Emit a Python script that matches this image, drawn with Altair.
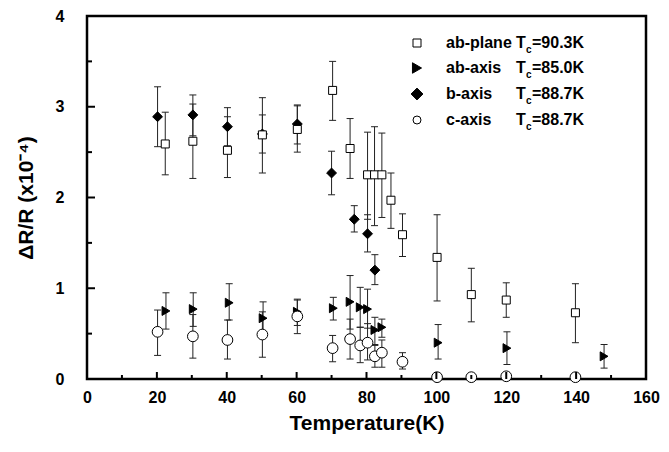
import altair as alt
import pandas as pd

# ---------------- data ----------------
# ab-plane  (open squares)
abp_T  = [22.4, 30.3, 40.2, 50.2, 60.2, 70.3, 75.3, 80.3, 82.3, 84.4, 87.0, 90.3, 100.2, 110.0, 120.0, 139.8]
abp_v  = [2.59, 2.62, 2.52, 2.69, 2.75, 3.18, 2.54, 2.25, 2.25, 2.25, 1.97, 1.59, 1.34, 0.93, 0.87, 0.73]
abp_hi = [2.94, 3.03, 2.89, 3.10, 3.01, 3.50, 2.87, 2.72, 2.78, 2.71, 2.27, 1.82, 1.81, 1.22, 1.06, 1.05]
abp_lo = [2.25, 2.21, 2.22, 2.27, 2.50, 2.85, 2.21, 1.76, 1.69, 1.78, 1.66, 1.35, 0.86, 0.63, 0.68, 0.40]

# ab-axis  (filled right triangles)
aba_T  = [22.6, 30.4, 40.7, 50.4, 60.2, 70.5, 75.3, 78.2, 80.3, 82.4, 84.4, 100.5, 120.2, 148.0]
aba_v  = [0.75, 0.77, 0.84, 0.67, 0.74, 0.78, 0.85, 0.79, 0.77, 0.54, 0.57, 0.40, 0.34, 0.25]
aba_hi = [0.95, 0.95, 1.05, 0.85, 0.87, 0.90, 1.14, 1.01, 0.99, 0.68, 0.66, 0.60, 0.52, 0.38]
aba_lo = [0.55, 0.58, 0.65, 0.49, 0.59, 0.65, 0.55, 0.57, 0.56, 0.38, 0.46, 0.22, 0.16, 0.12]

# b-axis  (filled diamonds)
bax_T  = [20.2, 30.3, 40.2, 50.2, 60.2, 70.0, 76.5, 80.3, 82.4]
bax_v  = [2.89, 2.91, 2.78, 2.70, 2.81, 2.27, 1.76, 1.60, 1.20]
bax_hi = [3.22, 3.13, 2.99, 2.91, 3.02, 2.51, 1.91, 1.81, 1.37]
bax_lo = [2.56, 2.68, 2.57, 2.49, 2.59, 2.03, 1.62, 1.40, 1.04]

# c-axis  (open circles)
cax_T  = [20.2, 30.3, 40.2, 50.2, 60.2, 70.3, 75.3, 78.2, 80.3, 82.4, 84.4, 90.3, 100.2, 110.0, 120.0, 139.8]
cax_v  = [0.52, 0.47, 0.43, 0.49, 0.69, 0.34, 0.44, 0.37, 0.40, 0.25, 0.29, 0.19, 0.02, 0.02, 0.03, 0.02]
cax_hi = [0.76, 0.71, 0.65, 0.74, 0.88, 0.48, 0.66, 0.57, 0.61, 0.37, 0.43, 0.29, 0.04, 0.03, 0.05, 0.04]
cax_lo = [0.26, 0.23, 0.22, 0.24, 0.50, 0.19, 0.22, 0.18, 0.21, 0.13, 0.13, 0.11, 0.00, 0.01, 0.01, 0.00]

series_names = ["b-axis", "ab-plane", "ab-axis", "c-axis"]   # drawing order
legend_names = ["ab-plane", "ab-axis", "b-axis", "c-axis"]
legend_tc    = ["=90.3K", "=85.0K", "=88.7K", "=88.7K"]

x_major = [0, 20, 40, 60, 80, 100, 120, 140, 160]
x_minor = [10, 30, 50, 70, 90, 110, 130, 150]
y_major = [0, 1, 2, 3, 4]
y_minor = [0.5, 1.5, 2.5, 3.5]

# ---------------- build table ----------------
parts = {
    "ab-plane": (abp_T, abp_v, abp_lo, abp_hi),
    "ab-axis": (aba_T, aba_v, aba_lo, aba_hi),
    "b-axis": (bax_T, bax_v, bax_lo, bax_hi),
    "c-axis": (cax_T, cax_v, cax_lo, cax_hi),
}
frames = []
for i, name in enumerate(series_names):
    T, v, lo, hi = parts[name]
    frames.append(pd.DataFrame({"T": T, "v": v, "lo": lo, "hi": hi,
                                "series": name, "order": i}))
df = pd.concat(frames, ignore_index=True)

FONT = "Liberation Sans"
W, H = 559, 363

xs = alt.Scale(domain=[0, 160], nice=False, zero=False)
ys = alt.Scale(domain=[0, 4], nice=False, zero=False)

x_axis = alt.Axis(values=x_major, title="Temperature(K)", grid=False, domain=False,
                  ticks=False, tickSize=0, labelPadding=10, labelFlush=False, labelFont=FONT,
                  labelFontSize=16, labelFontWeight="bold", labelColor="black",
                  titleFont=FONT, titleFontSize=21, titleFontWeight="bold",
                  titleColor="black", titlePadding=7)
y_axis = alt.Axis(values=y_major, title="ΔR/R (x10⁻⁴)", grid=False, domain=False,
                  ticks=False, tickSize=0, labelPadding=23, labelFlush=False, labelFont=FONT,
                  labelFontSize=16, labelFontWeight="bold", labelColor="black",
                  titleFont=FONT, titleFontSize=21, titleFontWeight="bold",
                  titleColor="black", titlePadding=19)


def X(field):
    return alt.X(field, type="quantitative", scale=xs, axis=x_axis)


def Y(field):
    return alt.Y(field, type="quantitative", scale=ys, axis=y_axis)


base = alt.Chart(df)
ERR = "#222222"

bars = base.mark_rule(color=ERR, strokeWidth=1).encode(x=X("T"), y=Y("lo"), y2="hi")
cap_hi = base.mark_tick(orient="horizontal", color=ERR, size=7, thickness=1, opacity=1).encode(
    x=X("T"), y=Y("hi"))
cap_lo = base.mark_tick(orient="horizontal", color=ERR, size=7, thickness=1, opacity=1).encode(
    x=X("T"), y=Y("lo"))

shape_scale = alt.Scale(domain=["ab-plane", "ab-axis", "b-axis", "c-axis"],
                        range=["square", "triangle-right", "diamond", "circle"])
fill_scale = alt.Scale(domain=["ab-plane", "ab-axis", "b-axis", "c-axis"],
                       range=["white", "black", "black", "white"])
size_scale = alt.Scale(domain=["ab-plane", "ab-axis", "b-axis", "c-axis"],
                       range=[64, 115, 105, 60])

points = base.mark_point(filled=True, stroke="black", strokeWidth=1, opacity=1).encode(
    x=X("T"), y=Y("v"),
    shape=alt.Shape("series:N", scale=shape_scale, legend=None),
    fill=alt.Fill("series:N", scale=fill_scale, legend=None),
    size=alt.Size("series:N", scale=size_scale, legend=None),
    order=alt.Order("order:Q"),
)

# inward ticks
xt_major = alt.Chart(pd.DataFrame({"t": x_major})).mark_rule(color="black", strokeWidth=2).encode(
    x=X("t"), y=alt.value(H), y2=alt.value(H - 7))
xt_minor = alt.Chart(pd.DataFrame({"t": x_minor})).mark_rule(color="black", strokeWidth=2).encode(
    x=X("t"), y=alt.value(H), y2=alt.value(H - 4))
yt_major = alt.Chart(pd.DataFrame({"t": y_major})).mark_rule(color="black", strokeWidth=2).encode(
    y=Y("t"), x=alt.value(0), x2=alt.value(8))
yt_minor = alt.Chart(pd.DataFrame({"t": y_minor})).mark_rule(color="black", strokeWidth=2).encode(
    y=Y("t"), x=alt.value(0), x2=alt.value(5))

# manual legend (with subscript c)
leg_layers = []
leg_shapes = {"ab-plane": ("square", "white", 64), "ab-axis": ("triangle-right", "black", 110),
              "b-axis": ("diamond", "black", 140), "c-axis": ("circle", "white", 64)}
one = pd.DataFrame({"a": [0]})
row_y = [27, 52, 78, 104]
for i, name in enumerate(legend_names):
    shp, fil, sz = leg_shapes[name]
    yy = row_y[i]
    leg_layers.append(alt.Chart(one).mark_point(shape=shp, filled=True, fill=fil, stroke="black",
                                                strokeWidth=1, size=sz, opacity=1).encode(
        x=alt.value(330), y=alt.value(yy)))
    txt = dict(font=FONT, fontWeight="bold", color="black", align="left", baseline="middle")
    leg_layers.append(alt.Chart(one).mark_text(text=name, fontSize=16, **txt).encode(
        x=alt.value(359), y=alt.value(yy)))
    leg_layers.append(alt.Chart(one).mark_text(text="T", fontSize=16, **txt).encode(
        x=alt.value(429), y=alt.value(yy)))
    leg_layers.append(alt.Chart(one).mark_text(text="c", fontSize=10, **txt).encode(
        x=alt.value(439), y=alt.value(yy + 7)))
    leg_layers.append(alt.Chart(one).mark_text(text=legend_tc[i], fontSize=16, **txt).encode(
        x=alt.value(445), y=alt.value(yy)))

chart = alt.layer(
    bars, cap_hi, cap_lo, points, xt_major, xt_minor, yt_major, yt_minor, *leg_layers
).properties(
    width=W, height=H,
    autosize=alt.AutoSizeParams(type="none"),
    padding={"left": 79, "top": 8, "right": 15, "bottom": 65},
    background="white",
).configure_view(
    stroke="black", strokeWidth=2.5
)

chart.save("out.html", embed_options={"renderer": "svg", "actions": False})
